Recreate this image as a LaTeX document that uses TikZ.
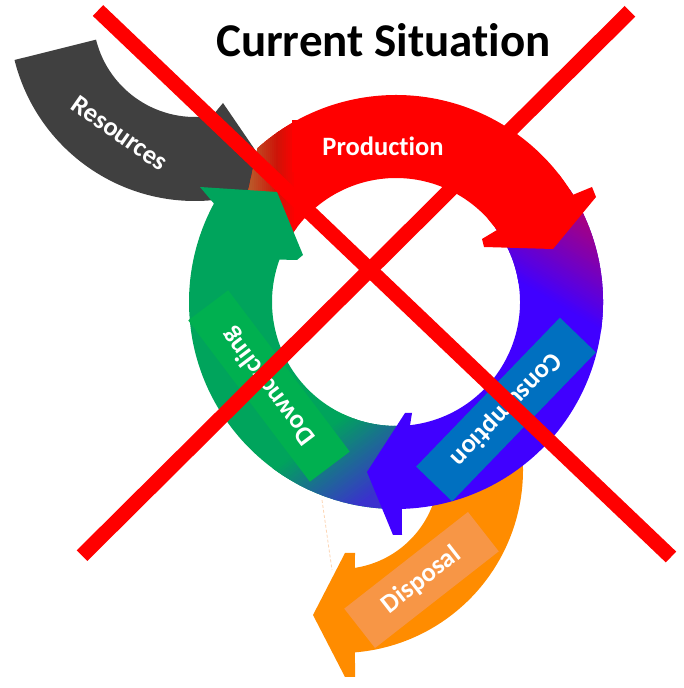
\documentclass[tikz,border=0pt]{standalone}
\usepackage{fontspec}
\setmainfont{Carlito}[Ligatures=NoCommon,RawFeature={-calt;-dlig}]
\definecolor{cgray}{RGB}{64,64,64}
\definecolor{cred}{RGB}{255,0,0}
\definecolor{cbrown}{RGB}{182,102,48}
\definecolor{cdred}{RGB}{205,20,8}
\definecolor{cblue}{RGB}{64,0,255}
\definecolor{cmag}{RGB}{170,0,125}
\definecolor{cgreen}{RGB}{0,164,92}
\definecolor{cbg}{RGB}{58,50,205}
\definecolor{cgreenbox}{RGB}{0,176,80}
\definecolor{cbluebox}{RGB}{0,112,192}
\definecolor{corange}{RGB}{255,140,0}
\definecolor{corangebox}{RGB}{247,150,70}
\definecolor{cfaint}{RGB}{252,213,180}
\begin{document}
\begin{tikzpicture}[x=1pt,y=1pt,
  lbl/.style={text=white,font=\fontsize{26.5}{30}\selectfont\bfseries,inner sep=0pt},
  lblbox/.style={lbl,minimum width=#1,minimum height=50pt},
  xline/.style={cred,line width=15pt}]
\useasboundingbox (0,0) rectangle (683,688);

% ---- Resources arrow (grey)
\begin{scope}[shift={(195,673)}]
\fill[cgray] (194:186) arc[start angle=194,end angle=276,radius=186]
  -- (55,-187) -- (67,-145) -- (28,-88) -- (280:102)
  arc[start angle=280,end angle=194,radius=102] -- cycle;
\end{scope}

\begin{scope}[shift={(396,386)}]
% ---- red body with gradient tail
\def\redbody{(132:207) arc[start angle=132,end angle=31.2,radius=207] -- (35.5:124) arc[start angle=35.5,end angle=150,radius=124] -- (-149,106) -- cycle}
\fill[cred] \redbody;
\begin{scope}
\clip \redbody;
\foreach \i in {0,...,16}{
  \pgfmathtruncatemacro\p{100-\i*100/16}
  \fill[cbrown!\p!cdred] (-152+2*\i,40) rectangle (-149.4+2*\i,190);
}
\foreach \i in {0,...,9}{
  \pgfmathtruncatemacro\p{100-\i*100/9}
  \fill[cdred!\p!cred] (-120+2*\i,40) rectangle (-117.4+2*\i,190);
}
\end{scope}

% ---- green body
\def\greenbody{(272:207) arc[start angle=272,end angle=151.6,radius=207] -- (-196,115) -- (-119,110) -- (-93,47) -- (-99,42) -- (160:124) arc[start angle=160,end angle=272,radius=124] -- cycle}
\fill[cgreen] \greenbody;
\begin{scope}
\clip \greenbody;
\begin{scope}[shift={(-36,-203)},rotate=37]
\fill[cbg] (-160,-90) rectangle (160,0.5);
\foreach \i in {0,...,40}{
  \pgfmathtruncatemacro\p{100-\i*100/40}
  \fill[cbg!\p!cgreen] (-160,2*\i) rectangle (160,2*\i+2.6);
}
\end{scope}
\end{scope}
\end{scope}

% ---- Disposal arrow (orange)
\begin{scope}[shift={(340,218)}]
\fill[corange] (12:183) arc[start angle=12,end angle=-85.3,radius=183]
  -- (15,-207) -- (5,-207) -- (-27,-145) -- (5,-83) -- (15,-83)
  -- (-81.3:99) arc[start angle=-81.3,end angle=12,radius=99] -- cycle;
\end{scope}

\begin{scope}[shift={(396,386)}]
% ---- blue body with gradient
\def\bluebody{(33:207) arc[start angle=33,end angle=-88.4,radius=207] -- (6,-233) -- (-3,-233) -- (-29,-170) -- (9,-111) -- (16,-111) -- (-83.5:124) arc[start angle=-83.5,end angle=37,radius=124] -- cycle}
\fill[cblue] \bluebody;
\begin{scope}
\clip \bluebody;
\begin{scope}[shift={(197,82)},rotate=-30.5]
\fill[cmag] (-200,80) rectangle (200,-0.5);
\foreach \i in {0,...,45}{
  \pgfmathtruncatemacro\p{100-\i*100/45}
  \fill[cmag!\p!cblue] (-200,-2*\i) rectangle (200,-2*\i-2.6);
}
\end{scope}
\end{scope}

% ---- red arrowhead
\fill[cred] (31.2:207) -- (196,115) -- (200,105) -- (157,53) -- (88,55) -- (86,63)
  -- (35.5:124) -- (42:124) -- (38:207) -- cycle;
\end{scope}

% ---- faint leftover line
\coordinate (fa) at (322,188);
\coordinate (fb) at (332,118);
\draw[cfaint,line width=0.8pt,dash pattern=on 3pt off 2pt] (fa) -- (fb);

% ---- labels
\node[lblbox=182pt,minimum height=52pt,fill=cred] (prod) at (383,542) {Production};
\node[lblbox=207pt,fill=cbluebox,rotate=226] (cons) at (506,278.5) {Consumption};
\node[lblbox=202pt,fill=cgreenbox,rotate=127] (down) at (269,302) {Downcycling};
\node[lblbox=157pt,fill=corangebox,rotate=38] (disp) at (421.5,108) {Disposal};
\node[lbl,rotate=-35] (res) at (120,555) {Resources};

% ---- red cross
\draw[xline] (98,677.5) -- (671,131);
\draw[xline] (82,132.3) -- (630,676.7);

% ---- title
\node[font=\fontsize{47}{56}\selectfont\bfseries,anchor=base,inner sep=0pt] (title) at (383.5,631) {Current Situation};
\end{tikzpicture}
\end{document}
